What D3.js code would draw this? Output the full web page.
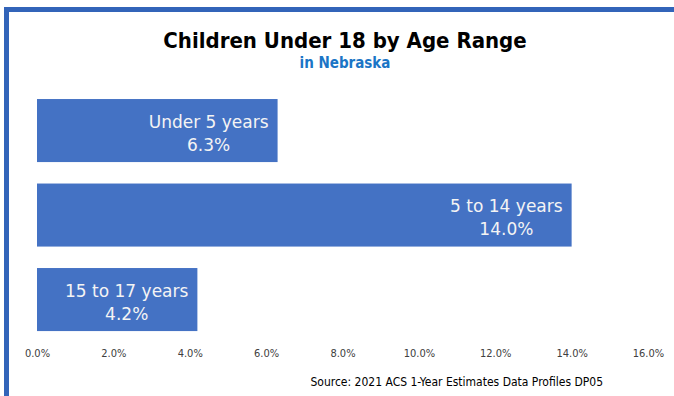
<!DOCTYPE html>
<html>
<head>
<meta charset="utf-8">
<script src="https://cdn.jsdelivr.net/npm/d3@7"></script>
<style>
  body { margin: 0; background: #fff; }
  svg { display: block; }
</style>
</head>
<body>
<div class="container"></div>
<script>
// chart data
var categories = ["Under 5 years", "5 to 14 years", "15 to 17 years"];
var values = [6.3, 14.0, 4.2];
var tickValues = [0, 2, 4, 6, 8, 10, 12, 14, 16];

var width = 674, height = 396;
var barColor = "#4472c4";
var frameColor = "#3264b9";

var svg = d3.select(".container").append("svg")
  .attr("width", width)
  .attr("height", height);

// frame: thick line on top and left
svg.append("rect").attr("x", 4).attr("y", 7).attr("width", width - 4).attr("height", 5).attr("fill", frameColor);
svg.append("rect").attr("x", 4).attr("y", 7).attr("width", 5).attr("height", height - 7).attr("fill", frameColor);

// titles
svg.append("text")
  .attr("x", 345).attr("y", 48)
  .attr("text-anchor", "middle")
  .style("font-family", "'DejaVu Sans Condensed', 'DejaVu Sans', sans-serif")
  .style("font-weight", "bold")
  .style("font-size", "22px")
  .attr("fill", "#000")
  .text("Children Under 18 by Age Range");

svg.append("text")
  .attr("x", 345).attr("y", 68)
  .attr("text-anchor", "middle")
  .style("font-family", "'DejaVu Sans Condensed', 'DejaVu Sans', sans-serif")
  .style("font-weight", "bold")
  .style("font-size", "15px")
  .attr("fill", "#1b75c6")
  .text("in Nebraska");

// scales
var x = d3.scaleLinear().domain([0, 16]).range([37, 648]);
var y = d3.scaleBand().domain(categories).range([88.3, 341.8])
  .paddingInner(0.254).paddingOuter(0.127);

// bars
var bars = svg.append("g").selectAll("rect")
  .data(values)
  .enter().append("rect")
  .attr("x", x(0))
  .attr("y", function(d, i) { return y(categories[i]); })
  .attr("width", function(d) { return x(d) - x(0); })
  .attr("height", y.bandwidth())
  .attr("fill", barColor);

// labels inside the end of each bar, two centred lines
var labelFont = "'DejaVu Sans', sans-serif";
var labels = svg.append("g").selectAll("g")
  .data(values)
  .enter().append("g");

labels.each(function(d, i) {
  var g = d3.select(this);
  var cy = y(categories[i]) + y.bandwidth() / 2;
  var t1 = g.append("text")
    .attr("y", cy - 3)
    .attr("text-anchor", "middle")
    .style("font-family", labelFont)
    .style("font-size", "17px")
    .attr("fill", "#f4f4f4")
    .text(categories[i]);
  var t2 = g.append("text")
    .attr("y", cy + 20)
    .attr("text-anchor", "middle")
    .style("font-family", labelFont)
    .style("font-size", "17px")
    .attr("fill", "#f4f4f4")
    .text(d3.format(".1f")(d) + "%");
  var w = Math.max(t1.node().getComputedTextLength(), t2.node().getComputedTextLength());
  var cx = x(d) - 9 - w / 2;
  t1.attr("x", cx);
  t2.attr("x", cx);
});

// x axis, labels only
var axis = d3.axisBottom(x)
  .tickValues(tickValues)
  .tickSize(0)
  .tickPadding(0)
  .tickFormat(function(d) { return d3.format(".1f")(d) + "%"; });

var ax = svg.append("g")
  .attr("transform", "translate(0,349)")
  .call(axis);
ax.select(".domain").remove();
ax.selectAll("text")
  .style("font-family", "'DejaVu Sans Condensed', 'DejaVu Sans', sans-serif")
  .style("font-size", "11px")
  .attr("fill", "#404040");

// source note
svg.append("text")
  .attr("x", 603).attr("y", 386)
  .attr("text-anchor", "end")
  .style("font-family", "'DejaVu Sans Condensed', 'DejaVu Sans', sans-serif")
  .style("font-size", "12px")
  .attr("fill", "#000")
  .text("Source: 2021 ACS 1-Year Estimates Data Profiles DP05");
</script>
</body>
</html>
